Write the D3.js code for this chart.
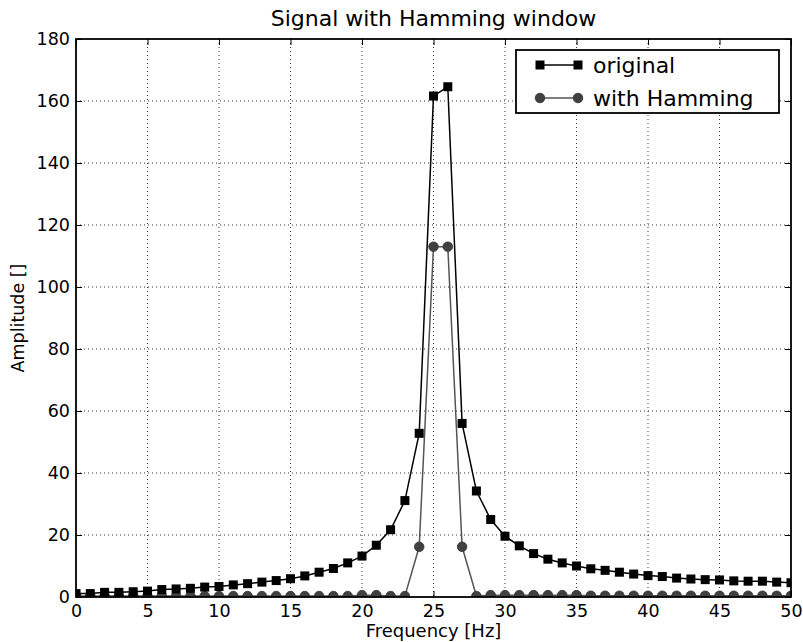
<!DOCTYPE html>
<html><head><meta charset="utf-8">
<script src="https://cdn.jsdelivr.net/npm/d3@7"></script>
<style>body{margin:0;background:#fff}svg{display:block}</style>
</head><body><svg id="c" width="803" height="642"></svg>
<script>
const frequency = [0,1,2,3,4,5,6,7,8,9,10,11,12,13,14,15,16,17,18,19,20,21,22,23,24,25,26,27,28,29,30,31,32,33,34,35,36,37,38,39,40,41,42,43,44,45,46,47,48,49,50];
const original = [1.1,1.1,1.5,1.5,1.7,1.9,2.4,2.6,2.8,3.2,3.4,3.9,4.3,4.8,5.3,5.9,6.8,8.0,9.2,11.0,13.2,16.7,21.7,31.1,52.8,161.6,164.6,56.0,34.2,25.0,19.6,16.5,14.0,12.2,11.0,10.0,9.1,8.6,8.0,7.4,6.9,6.6,6.1,5.8,5.6,5.5,5.2,5.1,5.1,4.8,4.6];
const withHamming = [0.3,0.3,0.3,0.3,0.3,0.3,0.3,0.3,0.3,0.3,0.3,0.3,0.3,0.3,0.3,0.3,0.3,0.3,0.3,0.3,0.6,0.6,0.3,0.3,16.2,113,113,16.2,0.3,0.6,0.6,0.6,0.6,0.6,0.6,0.6,0.4,0.4,0.4,0.4,0.4,0.4,0.4,0.4,0.4,0.4,0.4,0.4,0.4,0.4,0.4];
const xTicks = [0,5,10,15,20,25,30,35,40,45,50];
const yTicks = [0,20,40,60,80,100,120,140,160,180];
const seriesNames = ["original","with Hamming"];
const title = "Signal with Hamming window";
const xLabel = "Frequency [Hz]";
const yLabel = "Amplitude []";

const W=803,H=642,m={l:76,r:12,t:39,b:45};
const svg=d3.select("#c");
const x=d3.scaleLinear().domain([0,50]).range([m.l,W-m.r]);
const y=d3.scaleLinear().domain([0,180]).range([H-m.b,m.t]);
const font="DejaVu Sans";

svg.append("defs").append("clipPath").attr("id","clip").append("rect")
  .attr("x",m.l).attr("y",m.t).attr("width",W-m.l-m.r).attr("height",H-m.t-m.b);

// grid
const g=svg.append("g");
g.selectAll(".gx").data(xTicks.slice(1,-1)).join("line")
  .attr("x1",d=>x(d)).attr("x2",d=>x(d)).attr("y1",m.t).attr("y2",H-m.b)
  .attr("stroke","#000").attr("stroke-width",0.8).attr("stroke-dasharray","1,3");
g.selectAll(".gy").data(yTicks.slice(1,-1)).join("line")
  .attr("y1",d=>y(d)).attr("y2",d=>y(d)).attr("x1",m.l).attr("x2",W-m.r)
  .attr("stroke","#000").attr("stroke-width",0.8).attr("stroke-dasharray","1,3");

// axes with inside ticks
const axB=d3.axisBottom(x).tickValues(xTicks).tickSize(-6).tickPadding(8).tickFormat(d3.format("d"));
const axT=d3.axisTop(x).tickValues(xTicks).tickSize(-6).tickFormat("");
const axL=d3.axisLeft(y).tickValues(yTicks).tickSize(-6).tickPadding(6).tickFormat(d3.format("d"));
const axR=d3.axisRight(y).tickValues(yTicks).tickSize(-6).tickFormat("");
function styleAx(sel){sel.select(".domain").remove();sel.selectAll("line").attr("stroke","#000").attr("stroke-width",1);
  sel.selectAll("text").attr("font-family",font).attr("font-size",17.5).attr("fill","#000");}
svg.append("g").attr("transform",`translate(0,${H-m.b})`).call(axB).call(styleAx);
svg.append("g").attr("transform",`translate(0,${m.t})`).call(axT).call(styleAx);
svg.append("g").attr("transform",`translate(${m.l},0)`).call(axL).call(styleAx);
svg.append("g").attr("transform",`translate(${W-m.r},0)`).call(axR).call(styleAx);

// series
const pts1=frequency.map((f,i)=>[f,original[i]]);
const pts2=frequency.map((f,i)=>[f,withHamming[i]]);
const line=d3.line().x(d=>x(d[0])).y(d=>y(d[1]));
const plot=svg.append("g").attr("clip-path","url(#clip)");
const c2="#404040", c1="#000";
const r0=4.8, s=9;
plot.append("path").attr("d",line(pts2)).attr("fill","none").attr("stroke","#555").attr("stroke-width",1.5);
plot.selectAll(".c").data(pts2).join("circle").attr("cx",d=>x(d[0])).attr("cy",d=>y(d[1])).attr("r",r0)
  .attr("fill",c2).attr("stroke","#333").attr("stroke-width",0.8);
plot.append("path").attr("d",line(pts1)).attr("fill","none").attr("stroke",c1).attr("stroke-width",1.5);
plot.selectAll(".s").data(pts1).join("rect").attr("x",d=>x(d[0])-s/2).attr("y",d=>y(d[1])-s/2).attr("width",s).attr("height",s)
  .attr("fill",c1);

// frame
svg.append("rect").attr("x",m.l).attr("y",m.t).attr("width",W-m.l-m.r).attr("height",H-m.t-m.b)
  .attr("fill","none").attr("stroke","#000").attr("stroke-width",1.8);

// legend
const lg=svg.append("g");
lg.append("rect").attr("x",516).attr("y",50).attr("width",263).attr("height",63).attr("fill","#fff").attr("stroke","#000").attr("stroke-width",1.8);
const rows=[{y:65,c:"#000",lc:"#000",shape:"sq"},{y:98,c:c2,lc:"#555",shape:"ci"}];
rows.forEach((r,i)=>{
  lg.append("line").attr("x1",540).attr("x2",578).attr("y1",r.y).attr("y2",r.y).attr("stroke",r.lc).attr("stroke-width",1.5);
  [540,578].forEach(px=>{
    if(r.shape==="sq") lg.append("rect").attr("x",px-s/2).attr("y",r.y-s/2).attr("width",s).attr("height",s).attr("fill",r.c);
    else lg.append("circle").attr("cx",px).attr("cy",r.y).attr("r",r0).attr("fill",r.c).attr("stroke","#333").attr("stroke-width",0.8);
  });
  lg.append("text").attr("x",593).attr("y",r.y).attr("dy","0.35em").attr("font-family",font).attr("font-size",22).text(seriesNames[i]);
});

// titles
svg.append("text").attr("x",(m.l+W-m.r)/2).attr("y",26).attr("text-anchor","middle").attr("font-family",font).attr("font-size",22).text(title);
svg.append("text").attr("x",(m.l+W-m.r)/2).attr("y",637).attr("text-anchor","middle").attr("font-family",font).attr("font-size",18).text(xLabel);
svg.append("text").attr("transform",`translate(24,${(m.t+H-m.b)/2}) rotate(-90)`).attr("text-anchor","middle").attr("font-family",font).attr("font-size",17.5).text(yLabel);
</script></body></html>
